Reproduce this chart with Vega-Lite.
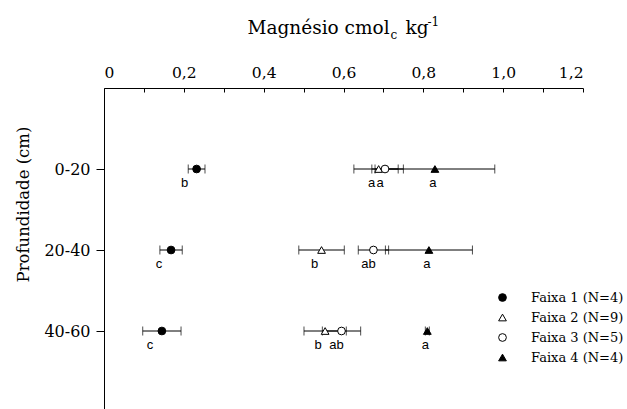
{
  "$schema": "https://vega.github.io/schema/vega-lite/v6.json",
  "width": 479,
  "height": 324,
  "autosize": {"type": "none"},
  "padding": {"left": 104, "top": 88, "right": 44, "bottom": 0},
  "background": "white",
  "config": {
    "view": {"stroke": null},
    "axis": {
      "grid": false,
      "domainColor": "black",
      "tickColor": "black",
      "labelColor": "black",
      "titleColor": "black",
      "labelFont": "DejaVu Serif",
      "titleFont": "DejaVu Serif",
      "titleFontWeight": "normal"
    }
  },
  "data": {
    "values": [
      {"depth": "0-20", "serie": "Faixa 1 (N=4)", "mean": 0.232, "err": 0.021, "letra": "b"},
      {"depth": "0-20", "serie": "Faixa 2 (N=9)", "mean": 0.688, "err": 0.062, "letra": "a"},
      {"depth": "0-20", "serie": "Faixa 3 (N=5)", "mean": 0.704, "err": 0.033, "letra": "a"},
      {"depth": "0-20", "serie": "Faixa 4 (N=4)", "mean": 0.829, "err": 0.150, "letra": "a"},
      {"depth": "20-40", "serie": "Faixa 1 (N=4)", "mean": 0.168, "err": 0.028, "letra": "c"},
      {"depth": "20-40", "serie": "Faixa 2 (N=9)", "mean": 0.545, "err": 0.057, "letra": "b"},
      {"depth": "20-40", "serie": "Faixa 3 (N=5)", "mean": 0.675, "err": 0.038, "letra": "ab"},
      {"depth": "20-40", "serie": "Faixa 4 (N=4)", "mean": 0.814, "err": 0.109, "letra": "a"},
      {"depth": "40-60", "serie": "Faixa 1 (N=4)", "mean": 0.145, "err": 0.048, "letra": "c"},
      {"depth": "40-60", "serie": "Faixa 2 (N=9)", "mean": 0.554, "err": 0.053, "letra": "b"},
      {"depth": "40-60", "serie": "Faixa 3 (N=5)", "mean": 0.595, "err": 0.048, "letra": "ab"},
      {"depth": "40-60", "serie": "Faixa 4 (N=4)", "mean": 0.810, "err": 0.005, "letra": "a"}
    ]
  },
  "resolve": {"axis": {"x": "independent"}},
  "encoding": {
    "y": {
      "field": "depth",
      "type": "nominal",
      "scale": {"type": "point", "padding": 1, "domain": ["0-20", "20-40", "40-60"]},
      "axis": {
        "tickSize": 8,
        "labelFontSize": 16,
        "labelPadding": 6,
        "labelAngle": 0,
        "title": "Profundidade (cm)",
        "titleFontSize": 16.5,
        "titleX": -81,
        "titleY": 116,
        "titleAngle": -90,
        "titleAlign": "center",
        "titleBaseline": "middle"
      }
    }
  },
  "layer": [
    {
      "mark": {"type": "errorbar", "ticks": {"size": 9, "color": "black"}, "rule": {"color": "black", "strokeWidth": 1}, "color": "black"},
      "encoding": {
        "x": {"field": "mean", "type": "quantitative", "scale": {"domain": [0, 1.2]}, "axis": null},
        "xError": {"field": "err"}
      }
    },
    {
      "mark": {"type": "point", "filled": true, "strokeWidth": 1, "opacity": 1, "size": 60},
      "encoding": {
        "x": {
          "field": "mean",
          "type": "quantitative",
          "scale": {"domain": [0, 1.2]},
          "axis": {
            "orient": "top",
            "values": [0, 0.1, 0.2, 0.3, 0.4, 0.5, 0.6, 0.7, 0.8, 0.9, 1.0, 1.1, 1.2],
            "labelExpr": "round(datum.value*10) % 2 == 0 ? (datum.value == 0 ? '0' : replace(format(datum.value, '.1f'), '.', ',')) : ''",
            "tickSize": -4,
            "labelPadding": 12,
            "labelFontSize": 15.5,
            "title": "Magnésio cmol",
            "titleFontSize": 18.5,
            "titleX": 143,
            "titleY": -55,
            "titleAlign": "left",
            "titleBaseline": "alphabetic"
          }
        },
        "shape": {
          "field": "serie",
          "type": "nominal",
          "scale": {"domain": ["Faixa 1 (N=4)", "Faixa 2 (N=9)", "Faixa 3 (N=5)", "Faixa 4 (N=4)"], "range": ["circle", "triangle-up", "circle", "triangle-up"]},
          "legend": {"orient": "none", "legendX": 392, "legendY": 203, "title": null, "labelFont": "DejaVu Serif", "labelFontSize": 13, "labelColor": "black", "symbolStrokeWidth": 1, "symbolSize": 60, "labelOffset": 22, "rowPadding": 6}
        },
        "fill": {
          "field": "serie",
          "type": "nominal",
          "scale": {"domain": ["Faixa 1 (N=4)", "Faixa 2 (N=9)", "Faixa 3 (N=5)", "Faixa 4 (N=4)"], "range": ["black", "white", "white", "black"]},
          "legend": {"orient": "none", "legendX": 392, "legendY": 203, "title": null, "labelFont": "DejaVu Serif", "labelFontSize": 13, "labelColor": "black", "symbolStrokeWidth": 1, "symbolSize": 60, "labelOffset": 22, "rowPadding": 6}
        },
        "stroke": {
          "field": "serie",
          "type": "nominal",
          "scale": {"domain": ["Faixa 1 (N=4)", "Faixa 2 (N=9)", "Faixa 3 (N=5)", "Faixa 4 (N=4)"], "range": ["black", "black", "black", "black"]},
          "legend": {"orient": "none", "legendX": 392, "legendY": 203, "title": null, "labelFont": "DejaVu Serif", "labelFontSize": 13, "labelColor": "black", "symbolStrokeWidth": 1, "symbolSize": 60, "labelOffset": 22, "rowPadding": 6}
        }
      }
    },
    {
      "transform": [{"filter": "datum.serie == 'Faixa 1 (N=4)'"}],
      "mark": {"type": "text", "font": "Liberation Sans", "fontSize": 13, "dy": 14, "dx": -12, "baseline": "middle", "color": "black"},
      "encoding": {
        "x": {"field": "mean", "type": "quantitative", "scale": {"domain": [0, 1.2]}, "axis": {"orient": "top", "domain": false, "ticks": false, "labels": false, "title": "c", "titleFontSize": 12, "titleX": 286, "titleY": -50, "titleAlign": "left", "titleBaseline": "alphabetic"}},
        "text": {"field": "letra"}
      }
    },
    {
      "transform": [{"filter": "datum.serie == 'Faixa 2 (N=9)'"}],
      "mark": {"type": "text", "font": "Liberation Sans", "fontSize": 13, "dy": 14, "dx": -7, "baseline": "middle", "color": "black"},
      "encoding": {
        "x": {"field": "mean", "type": "quantitative", "scale": {"domain": [0, 1.2]}, "axis": {"orient": "top", "domain": false, "ticks": false, "labels": false, "title": "kg", "titleFontSize": 18.5, "titleX": 301, "titleY": -55, "titleAlign": "left", "titleBaseline": "alphabetic"}},
        "text": {"field": "letra"}
      }
    },
    {
      "transform": [{"filter": "datum.serie == 'Faixa 3 (N=5)'"}],
      "mark": {"type": "text", "font": "Liberation Sans", "fontSize": 13, "dy": 14, "dx": -5, "baseline": "middle", "color": "black"},
      "encoding": {
        "x": {"field": "mean", "type": "quantitative", "scale": {"domain": [0, 1.2]}, "axis": {"orient": "top", "domain": false, "ticks": false, "labels": false, "title": "-1", "titleFontSize": 12, "titleX": 323, "titleY": -63, "titleAlign": "left", "titleBaseline": "alphabetic"}},
        "text": {"field": "letra"}
      }
    },
    {
      "transform": [{"filter": "datum.serie == 'Faixa 4 (N=4)'"}],
      "mark": {"type": "text", "font": "Liberation Sans", "fontSize": 13, "dy": 14, "dx": -2, "baseline": "middle", "color": "black"},
      "encoding": {
        "x": {"field": "mean", "type": "quantitative", "scale": {"domain": [0, 1.2]}, "axis": null},
        "text": {"field": "letra"}
      }
    }
  ]
}
